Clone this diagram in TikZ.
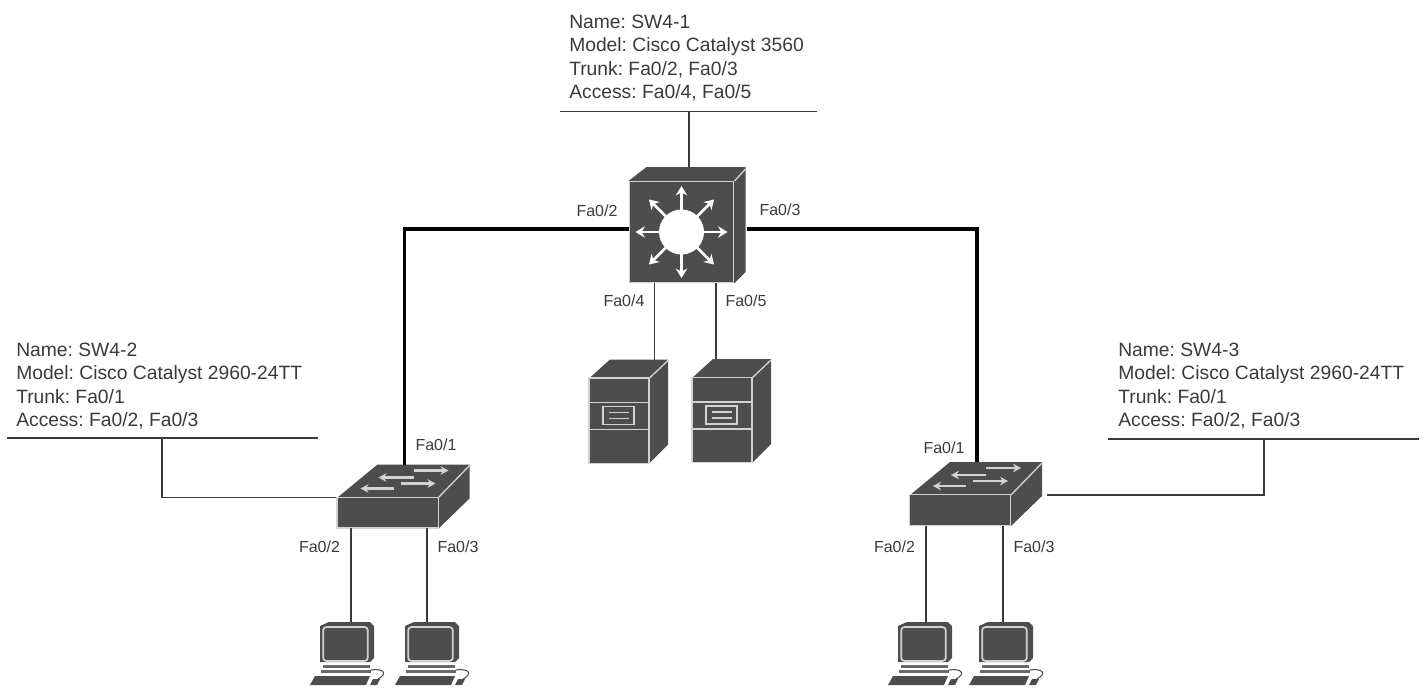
\documentclass[tikz,border=0pt]{standalone}
\usepackage{fontspec}
\setmainfont{Liberation Sans}
\usetikzlibrary{arrows.meta}
\definecolor{dev}{HTML}{4D4D4D}
\definecolor{edge}{HTML}{D2D2D2}
\definecolor{txt}{HTML}{3A3A3A}
\definecolor{wire}{HTML}{3A3A3A}
\tikzset{
  x=0.75pt,y=-0.75pt,
  face/.style={fill=dev,draw=edge,line width=1pt,line join=round},
  ridge/.style={draw=edge,line width=1pt},
  glow/.style={draw=white,line width=2pt,-{Stealth[length=7pt,width=8.5pt]}},
  glowb/.style={draw=edge,line width=1.7pt,-{Stealth[length=6pt,width=6.5pt]}},
  thin wire/.style={draw=wire,line width=0.8pt},
  trunk/.style={draw=black,line width=2.6pt},
  port/.style={font=\fontsize{12}{13}\selectfont,text=txt,inner sep=0pt},
  info/.style={font=\frenchspacing\fontsize{14.45}{17.4}\selectfont,text=txt,inner sep=0pt,align=left,anchor=west},
  pics/layerthree/.style={code={
    \fill[dev] (-53,-51) -- (-35,-65) -- (64,-65) -- (64,40) -- (53,51) -- cycle;
    \draw[ridge] (53,-51) -- (64,-63);
    \node[face,minimum width=78pt,minimum height=76pt,inner sep=0pt] (-front) at (0,0) {};
    \foreach \a in {0,45,...,315}
      \draw[glow] (\a:20) -- (\a:46);
    \fill[white] (0,0) circle[radius=22.5];
    \coordinate (-top) at (7,-65);
  }},
  pics/tower/.style={code={
    \fill[dev] (-30,-42) -- (-9,-61) -- (49,-61) -- (49,24) -- (30,43) -- cycle;
    \draw[ridge] (30,-42) -- (49,-60);
    \node[face,minimum width=45pt,minimum height=64pt,inner sep=0pt] (-front) at (0,0) {};
    \draw[ridge] (-30,-18) -- (30,-18) (-30,9) -- (30,9);
    \draw[ridge] (-16,-14) rectangle (15,4);
    \draw[ridge] (-10,-8) -- (10,-8) (-10,-2) -- (10,-2);
    \coordinate (-top) at (5,-61);
  }},
  pics/accesssw/.style={code={
    \fill[dev] (-50,-15) -- (-10,-48) -- (82,-48) -- (82,-14) -- (51,16) -- cycle;
    \draw[ridge] (51,-15) -- (82,-47);
    \node[face,minimum width=76pt,minimum height=23pt,inner sep=0pt] (-front) at (0,0) {};
    \draw[glowb] (26,-42) -- (61,-42);
    \draw[glowb] (26,-35) -- (-9,-35);
    \draw[glowb] (13,-29) -- (48,-29);
    \draw[glowb] (6,-24) -- (-27,-24);
    \coordinate (-top) at (17,-48);
    \coordinate (-left) at (-52,-15);
    \coordinate (-right) at (87,-15);
  }},
  pics/desktop/.style={code={
    \fill[dev] (0,2) -- (9,-2) -- (50,-2) -- (54,2) -- (54,34) -- (50,38) -- (0,38) -- cycle;
    \node[draw=edge,line width=1.3pt,fill=dev,rounded corners=2.5pt,minimum width=33.5pt,minimum height=25.5pt,inner sep=0pt] (-front) at (25.5,20) {};
    \fill[dev!85] (3,41) rectangle (50,44);
    \fill[dev!85] (1,46) rectangle (51,48.5);
    \fill[dev] (-5,52) -- (50,52) -- (46,61) -- (-10,61) -- cycle;
    \fill[dev] (53,55) -- (60,55) -- (57,61) -- (50,61) -- cycle;
    \draw[dev,line width=0.8pt] (51,46) .. controls (64,44) and (68,50) .. (58,55);
    \coordinate (-top) at (30,-2);
  }}
}
\begin{document}
\begin{tikzpicture}
\useasboundingbox (0,0) rectangle (1425,687);
% devices
\pic (core) at (681.5,232) {layerthree};
\pic (srvA) at (619,420.5) {tower};
\pic (srvB) at (722,420) {tower};
\pic (swL) at (387.5,512.5) {accesssw};
\pic (swR) at (960,510) {accesssw};
\pic (pcA) at (320,624) {desktop};
\pic (pcB) at (405,624) {desktop};
\pic (pcC) at (898,624) {desktop};
\pic (pcD) at (979,624) {desktop};
% information blocks
\node[info] (infoTop) at (569,58) {Name: SW4-1\\Model: Cisco Catalyst 3560\\Trunk: Fa0/2, Fa0/3\\Access: Fa0/4, Fa0/5};
\node[info] (infoL) at (16,386) {Name: SW4-2\\Model: Cisco Catalyst 2960-24TT\\Trunk: Fa0/1\\Access: Fa0/2, Fa0/3};
\node[info] (infoR) at (1118,386) {Name: SW4-3\\Model: Cisco Catalyst 2960-24TT\\Trunk: Fa0/1\\Access: Fa0/2, Fa0/3};
% rules under the blocks
\coordinate (ruleTa) at (560,111.5); \coordinate (ruleTb) at (817,111.5); \coordinate (ruleTm) at (689,111.5);
\coordinate (ruleLa) at (7,438);     \coordinate (ruleLb) at (318,438);   \coordinate (ruleLm) at (162,438);
\coordinate (ruleRa) at (1108,439);  \coordinate (ruleRb) at (1419,439);  \coordinate (ruleRm) at (1264,439);
\draw[thin wire] (ruleTa) -- (ruleTb);
\draw[thin wire] (ruleLa) -- (ruleLb);
\draw[thin wire] (ruleRa) -- (ruleRb);
\draw[thin wire] (ruleTm) -- (ruleTm |- core-top);
\draw[thin wire] (ruleLm) |- (swL-left);
\draw[thin wire] (ruleRm) |- (swR-right);
% trunks
\coordinate (coreW) at (629,229);
\coordinate (coreE) at (747,229);
\draw[trunk] (coreW) -| (swL-top);
\draw[trunk] (coreE) -| (swR-top);
% access links
\coordinate (coreP1) at (654.5,283);
\coordinate (coreP2) at (716,283);
\coordinate (swLP1) at (351,528);
\coordinate (swLP2) at (427,528);
\coordinate (swRP1) at (926,526);
\coordinate (swRP2) at (1003,526);
\draw[thin wire] (coreP1) -- (coreP1 |- srvA-top);
\draw[thin wire] (coreP2) -- (coreP2 |- srvB-top);
\draw[thin wire] (swLP1) -- (swLP1 |- pcA-top);
\draw[thin wire] (swLP2) -- (swLP2 |- pcB-top);
\draw[thin wire] (swRP1) -- (swRP1 |- pcC-top);
\draw[thin wire] (swRP2) -- (swRP2 |- pcD-top);
% port labels
\node[port] (p1) at (597,211) {Fa0/2};
\node[port] (p2) at (780,210) {Fa0/3};
\node[port] (p3) at (624,301) {Fa0/4};
\node[port] (p4) at (746,301) {Fa0/5};
\node[port] (p5) at (436,445) {Fa0/1};
\node[port] (p6) at (319.5,547) {Fa0/2};
\node[port] (p7) at (458,547) {Fa0/3};
\node[port] (p8) at (944,448) {Fa0/1};
\node[port] (p9) at (894.5,547) {Fa0/2};
\node[port] (p10) at (1034,547) {Fa0/3};
\end{tikzpicture}
\end{document}
